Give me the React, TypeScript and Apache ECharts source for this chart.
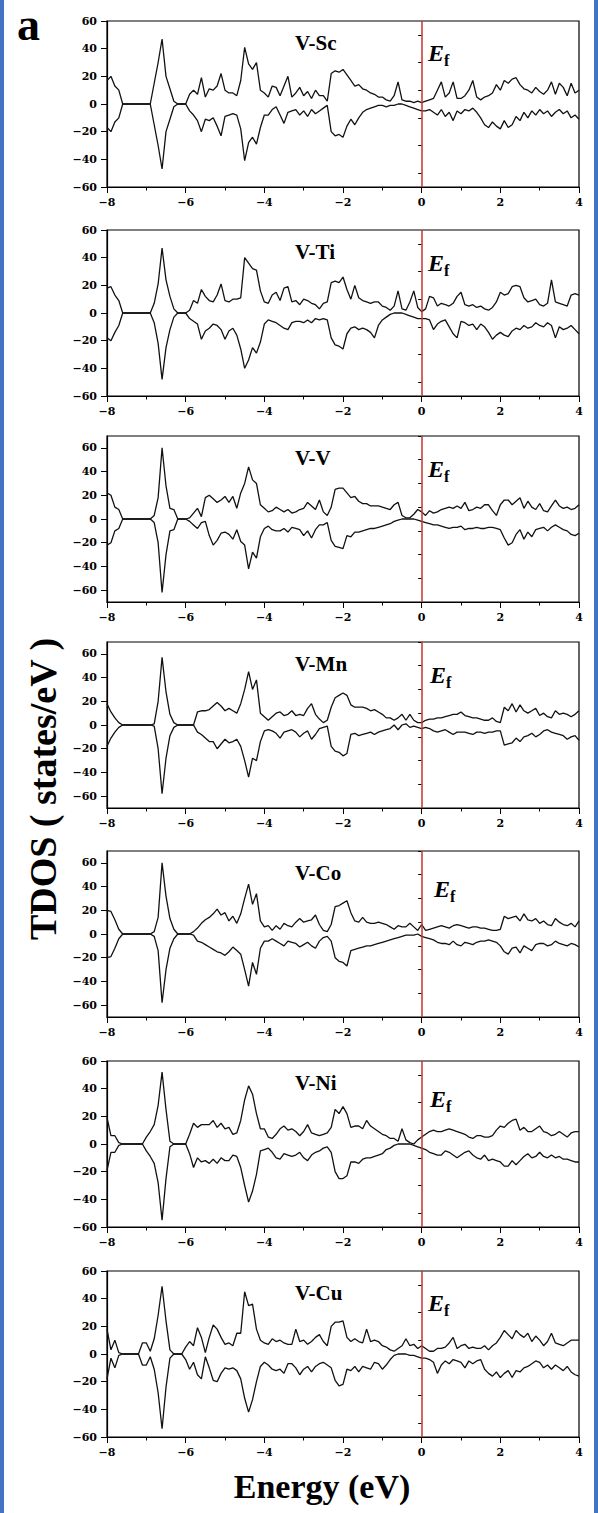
import React, { useEffect, useRef } from "react";
import * as echarts from "echarts";

// ---------- data ----------
const E_START = -8;
const E_STEP = 0.1;
const X_MIN = -8;
const X_MAX = 4;
const X_INTERVAL = 2;

const panelNames = ["V-Sc", "V-Ti", "V-V", "V-Mn", "V-Co", "V-Ni", "V-Cu"];
const yLimits = [60, 60, 70, 70, 70, 60, 60];
const yMajorTicks = [-60, -40, -20, 0, 20, 40, 60];
const yMinorTicks60 = [-50, -30, -10, 10, 30, 50];
const yMinorTicks70 = [-70, -50, -30, -10, 10, 30, 50, 70];
const fermiEnergy = 0;

const upVSc = [17,20,13,10,0,0,0,0,0,0,0,0,15,30,47,20,11,2,0,0,0,7,10,7,19,5,11,10,13,22,10,8,8,6,17,41,29,25,30,10,8,5,13,12,6,13,20,5,8,12,6,9,4,10,6,6,2,22,24,23,25,21,17,13,14,11,10,8,7,5,5,3,2,6,16,3,2,2,1,2,1,2,3,4,10,16,5,8,16,4,4,6,10,17,5,3,5,6,8,14,10,17,15,18,19,14,11,10,8,12,9,7,10,16,7,15,12,6,15,8,10];
const downVSc = [-17,-20,-13,-10,0,0,0,0,0,0,0,0,-15,-30,-47,-20,-11,-2,0,0,0,-5,-8,-12,-20,-11,-12,-10,-16,-23,-9,-8,-7,-8,-18,-41,-28,-24,-29,-17,-8,-8,-4,-2,-8,-14,-6,-5,-4,-8,-5,-9,-4,-7,-5,-3,-1,-20,-23,-22,-24,-16,-11,-15,-10,-6,-4,-3,-2,-1,-1,-2,-1,-1,0,0,-1,-2,-3,-4,-5,-5,-4,-6,-8,-4,-9,-6,-12,-5,-7,-4,-5,-3,-6,-10,-15,-17,-13,-16,-18,-12,-17,-15,-9,-12,-6,-10,-5,-8,-4,-7,-5,-9,-6,-4,-7,-5,-10,-8,-11];

const upVTi = [18,19,13,9,0,0,0,0,0,0,0,0,7,21,47,24,12,3,0,0,0,2,9,7,17,12,9,8,13,21,9,8,10,10,11,40,36,32,31,16,8,7,13,15,9,18,19,8,9,6,10,9,7,6,3,7,8,22,23,22,26,17,10,20,11,9,8,7,8,8,5,4,2,5,16,3,2,8,16,4,1,3,12,11,5,7,6,5,7,12,15,6,5,6,4,5,3,2,4,8,15,13,14,19,20,19,11,8,9,10,6,5,7,24,8,7,6,5,13,14,13];
const downVTi = [-18,-20,-14,-9,0,0,0,0,0,0,0,0,-7,-22,-48,-25,-12,-3,0,0,0,-4,-6,-8,-19,-13,-11,-8,-9,-12,-19,-13,-11,-16,-26,-40,-34,-25,-29,-21,-8,-5,-6,-7,-9,-11,-12,-7,-6,-6,-7,-5,-7,-4,-5,-4,-5,-18,-23,-24,-26,-15,-11,-10,-12,-11,-12,-14,-18,-9,-5,-3,-1,0,0,0,-1,-2,-3,-4,-4,-4,-5,-12,-8,-6,-5,-10,-15,-18,-6,-7,-9,-8,-12,-8,-10,-14,-19,-16,-14,-16,-17,-13,-11,-12,-9,-11,-10,-7,-9,-10,-7,-9,-18,-10,-12,-11,-9,-12,-15];

const upVV = [22,20,10,8,0,0,0,0,0,0,0,0,3,18,60,28,9,8,0,0,0,1,5,9,2,18,20,17,14,16,19,14,19,9,22,30,44,33,30,12,9,6,7,10,8,6,8,5,6,8,9,14,11,8,16,6,3,10,25,26,26,22,18,19,15,13,13,11,11,11,10,9,8,12,14,3,1,1,4,8,6,3,7,5,6,8,9,10,9,11,9,14,7,8,10,9,12,12,7,3,12,16,16,12,15,18,9,15,10,8,13,7,6,11,16,11,9,10,8,9,12];
const downVV = [-22,-20,-10,-8,0,0,0,0,0,0,0,0,-3,-20,-62,-30,-10,-9,0,0,0,-2,-5,-8,-3,-2,-14,-22,-18,-12,-11,-13,-17,-9,-19,-22,-42,-28,-33,-15,-8,-6,-9,-10,-10,-8,-11,-7,-8,-9,-14,-10,-16,-9,-5,-5,-3,-18,-23,-24,-25,-14,-15,-11,-11,-10,-9,-8,-8,-7,-6,-5,-4,-2,-1,0,0,0,0,-1,-2,-3,-4,-5,-5,-6,-7,-8,-7,-7,-6,-9,-8,-8,-7,-8,-8,-7,-7,-8,-9,-16,-22,-20,-13,-9,-17,-11,-15,-9,-8,-7,-10,-7,-5,-7,-9,-10,-13,-14,-12];

const upVMn = [18,11,6,2,0,0,0,0,0,0,0,0,1,20,57,28,9,2,0,0,0,0,0,11,12,12,13,16,19,16,12,14,12,10,18,30,45,30,38,10,7,4,7,10,11,8,9,12,8,9,8,14,18,9,5,2,4,15,23,25,27,25,17,15,15,15,14,12,13,11,9,6,6,4,6,9,4,9,4,2,2,4,5,5,6,6,7,8,9,9,11,8,7,6,6,5,4,4,6,3,2,15,12,18,11,17,12,10,12,14,8,10,7,6,12,9,10,9,7,9,12];
const downVMn = [-18,-11,-6,-2,0,0,0,0,0,0,0,0,-1,-20,-58,-28,-9,-2,0,0,0,0,0,-6,-8,-11,-14,-14,-20,-16,-12,-15,-14,-12,-18,-30,-44,-28,-30,-14,-5,-4,-5,-7,-11,-6,-5,-4,-6,-10,-7,-5,-12,-8,-3,-2,-1,-18,-22,-23,-26,-24,-8,-7,-9,-8,-7,-6,-8,-6,-5,-4,-3,0,-4,0,1,-2,-1,-2,-3,-2,-3,-5,-6,-5,-4,-6,-8,-6,-6,-6,-7,-8,-6,-6,-7,-6,-6,-5,-5,-17,-16,-15,-11,-14,-10,-9,-7,-10,-8,-5,-4,-6,-7,-8,-9,-12,-10,-9,-13];

const upVCo = [20,19,12,4,0,0,0,0,0,0,0,0,2,14,60,32,13,4,0,0,0,0,2,5,9,12,14,17,21,16,18,11,15,9,17,30,42,25,34,11,6,7,3,7,4,9,7,6,10,13,10,11,12,16,8,3,2,8,23,24,26,28,18,11,10,14,10,9,9,10,9,8,6,4,7,6,6,9,6,3,8,3,4,5,6,7,6,5,7,8,7,6,5,6,6,5,5,4,3,3,4,15,13,14,15,11,17,12,11,13,9,11,8,7,13,10,8,7,9,6,11];
const downVCo = [-20,-19,-12,-4,0,0,0,0,0,0,0,0,-2,-14,-58,-30,-12,-4,0,0,0,0,-1,-6,-7,-9,-11,-13,-15,-16,-18,-15,-11,-14,-17,-30,-44,-24,-34,-12,-6,-6,-4,-6,-8,-10,-6,-7,-8,-11,-9,-7,-10,-12,-6,-3,-2,-6,-20,-23,-24,-27,-14,-13,-12,-11,-10,-10,-9,-8,-7,-6,-5,-4,-3,-2,-1,-1,-1,0,-2,-3,-4,-5,-7,-8,-8,-9,-6,-9,-10,-7,-8,-9,-7,-6,-6,-5,-6,-7,-10,-15,-17,-12,-11,-16,-10,-12,-14,-9,-8,-8,-10,-9,-6,-8,-9,-10,-8,-9,-11];

const upVNi = [19,6,6,1,0,0,0,0,0,0,5,9,14,28,52,25,2,0,0,0,0,7,15,12,14,14,14,17,12,15,11,12,7,8,17,32,42,36,22,11,11,5,4,7,11,13,10,11,9,6,9,14,8,7,6,7,8,12,25,22,27,22,12,13,13,11,17,13,11,9,7,6,4,4,2,11,3,1,0,3,5,7,9,10,9,9,10,11,10,9,8,7,5,4,6,6,5,5,6,10,13,12,15,17,18,10,12,9,9,11,13,9,8,6,7,9,7,5,8,9,9];
const downVNi = [-19,-6,-6,-1,0,0,0,0,0,0,-5,-9,-14,-28,-55,-25,-2,0,0,0,0,-7,-17,-10,-13,-12,-14,-11,-14,-10,-12,-12,-8,-9,-17,-30,-42,-34,-22,-5,-4,-3,-6,-10,-11,-7,-8,-9,-8,-6,-10,-12,-8,-6,-5,-3,-2,-6,-20,-25,-25,-23,-13,-13,-14,-11,-10,-10,-9,-8,-7,-4,-3,-1,0,0,0,0,-1,-2,-3,-4,-6,-7,-8,-8,-5,-6,-8,-10,-8,-6,-5,-8,-10,-11,-8,-12,-11,-12,-13,-16,-16,-12,-15,-12,-9,-7,-10,-9,-6,-9,-10,-8,-10,-9,-11,-11,-12,-13,-13];

const upVCu = [18,3,10,1,0,0,0,0,0,8,8,2,11,28,49,24,3,0,0,0,5,9,6,19,12,1,12,21,18,12,7,8,6,15,15,45,35,36,18,10,8,7,11,9,10,8,7,7,18,9,10,7,9,12,14,9,6,20,23,23,24,12,9,11,9,8,18,9,10,9,6,5,3,2,4,6,11,6,7,4,6,4,2,2,4,4,5,8,12,4,6,7,4,5,4,4,6,3,6,8,12,17,14,11,17,14,12,15,9,13,10,6,9,15,8,7,6,8,10,10,10];
const downVCu = [-18,-3,-10,-1,0,0,0,0,0,-8,-8,-2,-11,-28,-54,-24,-3,0,0,0,-4,-11,-6,-15,-18,-2,-10,-19,-20,-14,-10,-11,-10,-12,-18,-32,-42,-33,-20,-9,-6,-8,-11,-12,-11,-14,-7,-7,-10,-15,-11,-9,-13,-9,-7,-6,-8,-10,-19,-23,-22,-11,-12,-9,-13,-9,-10,-11,-6,-7,-11,-8,-4,-1,0,0,0,-1,-1,-2,-3,-3,-4,-6,-14,-8,-5,-7,-4,-5,-6,-10,-5,-7,-5,-4,-11,-14,-16,-13,-17,-14,-12,-17,-12,-13,-10,-9,-7,-5,-6,-10,-8,-11,-8,-10,-12,-9,-13,-15,-16];

const spinUp = [upVSc, upVTi, upVV, upVMn, upVCo, upVNi, upVCu];
const spinDown = [downVSc, downVTi, downVV, downVMn, downVCo, downVNi, downVCu];

// ---------- layout ----------
const W = 598;
const H = 1513;
const panelTops = [21, 230, 436, 642, 851, 1061, 1271];
const panelHeight = 166;
const gridLeft = 107;
const gridRight = 19;
const efX = [428, 428, 428, 430, 434, 430, 428];
const efBase = [40, 41, 41, 41, 46, 46, 40];

const SERIF = "'Liberation Serif', 'Times New Roman', serif";
const TICKFONT = "'DejaVu Serif', serif";
const fmt = (v: number) => (v < 0 ? "\u2212" + Math.abs(v) : String(v));

function buildOption() {
  const grids: any[] = [];
  const xAxes: any[] = [];
  const yAxes: any[] = [];
  const series: any[] = [];
  const graphics: any[] = [];

  panelNames.forEach((name, i) => {
    const top = panelTops[i];
    const lim = yLimits[i];
    grids.push({
      left: gridLeft,
      right: gridRight,
      top,
      height: panelHeight,
      show: true,
      borderColor: "#000",
      borderWidth: 1.2,
      backgroundColor: "transparent",
    });
    xAxes.push({
      gridIndex: i,
      type: "value",
      min: X_MIN,
      max: X_MAX,
      interval: X_INTERVAL,
      axisLine: { show: true, onZero: false, lineStyle: { color: "#000", width: 1.2 } },
      axisTick: { show: true, length: 6, lineStyle: { color: "#000", width: 1 } },
      minorTick: { show: true, splitNumber: 2, length: 3.5, lineStyle: { color: "#000", width: 1 } },
      axisLabel: {
        formatter: fmt,
        fontFamily: TICKFONT,
        fontWeight: "bold",
        fontSize: 11,
        color: "#000",
        margin: 10,
      },
      splitLine: { show: false },
    });
    yAxes.push({
      gridIndex: i,
      type: "value",
      min: -lim,
      max: lim,
      axisLine: { show: true, onZero: false, lineStyle: { color: "#000", width: 1.2 } },
      axisTick: { show: true, length: 6, customValues: yMajorTicks, lineStyle: { color: "#000", width: 1 } },
      axisLabel: {
        customValues: yMajorTicks,
        formatter: fmt,
        fontFamily: TICKFONT,
        fontWeight: "bold",
        fontSize: 11,
        color: "#000",
        margin: 10,
      },
      splitLine: { show: false },
    });
    yAxes.push({
      gridIndex: i,
      type: "value",
      position: "left",
      min: -lim,
      max: lim,
      axisLine: { show: false },
      axisTick: {
        show: true,
        length: 3.5,
        customValues: lim === 70 ? yMinorTicks70 : yMinorTicks60,
        lineStyle: { color: "#000", width: 1 },
      },
      axisLabel: { show: false },
      splitLine: { show: false },
    });

    const mk = (arr: number[]) => arr.map((v, k) => [Math.round((E_START + k * E_STEP) * 10) / 10, v]);
    series.push({
      type: "line",
      xAxisIndex: i,
      yAxisIndex: 2 * i,
      data: mk(spinUp[i]),
      showSymbol: false,
      symbol: "none",
      lineStyle: { color: "#111", width: 1.3 },
      z: 3,
      markLine: {
        silent: true,
        symbol: ["none", "none"],
        label: { show: false },
        lineStyle: { color: "#c8302c", width: 1.5, type: "solid" },
        data: [{ xAxis: fermiEnergy }],
      },
    });
    series.push({
      type: "line",
      xAxisIndex: i,
      yAxisIndex: 2 * i,
      data: mk(spinDown[i]),
      showSymbol: false,
      symbol: "none",
      lineStyle: { color: "#111", width: 1.3 },
      z: 3,
    });

    graphics.push({
      type: "text",
      x: 295,
      y: top + 22,
      style: {
        text: name,
        font: `bold 21px ${SERIF}`,
        fill: "#000",
        align: "left",
        verticalAlign: "middle",
      },
    });
    graphics.push({
      type: "text",
      x: efX[i],
      y: top + efBase[i] - 8,
      style: {
        text: "E",
        font: `italic bold 24px ${SERIF}`,
        fill: "#000",
        align: "left",
        verticalAlign: "middle",
      },
    });
    graphics.push({
      type: "text",
      x: efX[i] + 16,
      y: top + efBase[i] - 0.5,
      style: {
        text: "f",
        font: `bold 16px ${SERIF}`,
        fill: "#000",
        align: "left",
        verticalAlign: "middle",
      },
    });
  });

  graphics.push(
    { type: "rect", shape: { x: 0, y: 0, width: 4, height: H }, style: { fill: "#4472c4" } },
    { type: "rect", shape: { x: W - 4, y: 0, width: 4, height: H }, style: { fill: "#4472c4" } },
    {
      type: "text",
      x: 17,
      y: 24,
      style: {
        text: "a",
        font: `bold 46px ${SERIF}`,
        fill: "#000",
        align: "left",
        verticalAlign: "middle",
      },
    },
    {
      type: "text",
      x: 43,
      y: 789,
      rotation: Math.PI / 2,
      style: {
        text: "TDOS ( states/eV )",
        font: `bold 38px ${SERIF}`,
        fill: "#000",
        align: "center",
        verticalAlign: "middle",
      },
    },
    {
      type: "text",
      x: 322,
      y: 1486,
      style: {
        text: "Energy (eV)",
        font: `bold 34px ${SERIF}`,
        fill: "#000",
        align: "center",
        verticalAlign: "middle",
      },
    }
  );

  return {
    animation: false,
    backgroundColor: "#fff",
    grid: grids,
    xAxis: xAxes,
    yAxis: yAxes,
    series,
    graphic: graphics,
  };
}

export default function App() {
  const ref = useRef<HTMLDivElement>(null);
  useEffect(() => {
    document.body.style.margin = "0";
    if (!ref.current) return;
    const chart = echarts.init(ref.current, undefined, { renderer: "svg", width: W, height: H });
    chart.setOption(buildOption() as any);
    return () => chart.dispose();
  }, []);
  return (
    <div
      ref={ref}
      style={{ position: "absolute", left: 0, top: 0, width: W, height: H, background: "#fff" }}
    />
  );
}
